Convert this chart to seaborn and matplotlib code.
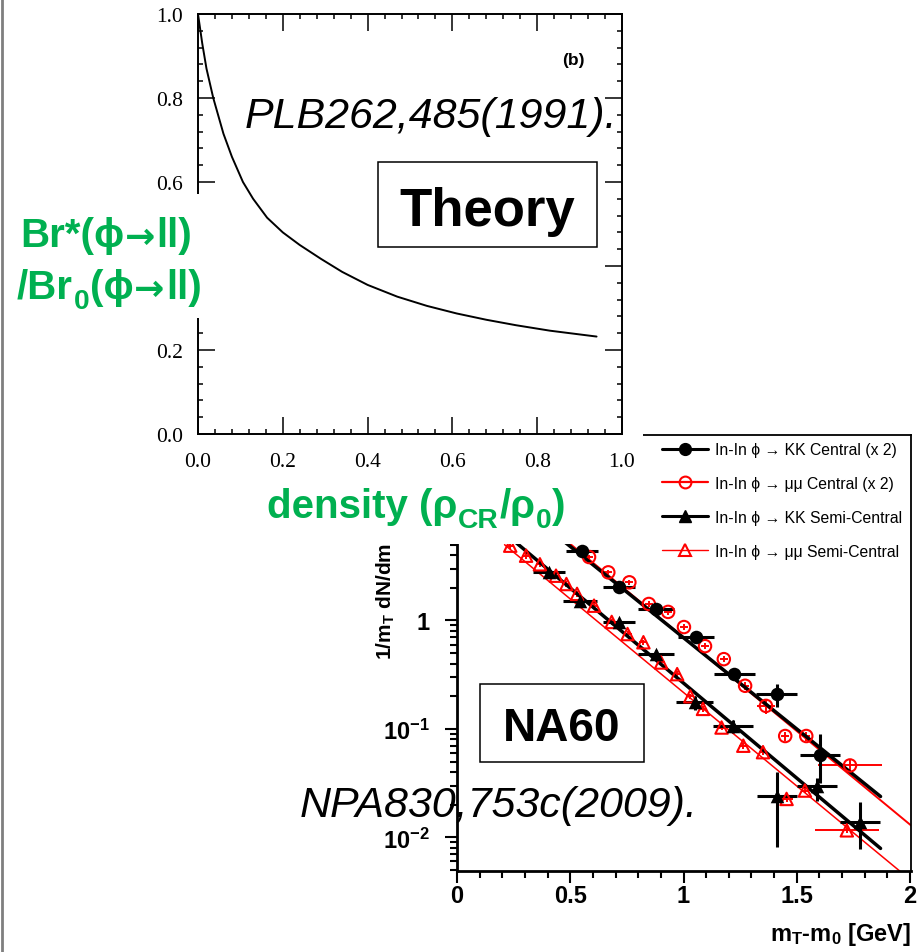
import numpy as np
import matplotlib
matplotlib.use("Agg")
import matplotlib.pyplot as plt
import seaborn as sns
from matplotlib.patches import Rectangle
from matplotlib.lines import Line2D
from matplotlib.ticker import MultipleLocator, LogLocator, NullFormatter

# Theory curve (top panel): Br*/Br0 vs density
density = [0.0, 0.01, 0.02, 0.036, 0.06, 0.08, 0.106, 0.13, 0.163, 0.2, 0.24,
           0.29, 0.34, 0.40, 0.47, 0.54, 0.61, 0.68, 0.75, 0.83, 0.94]
br_ratio = [1.0, 0.93, 0.87, 0.80, 0.715, 0.66, 0.60, 0.56, 0.515, 0.48, 0.45,
            0.417, 0.386, 0.355, 0.327, 0.305, 0.287, 0.272, 0.259, 0.246, 0.232]
theory_xticks = [0.0, 0.2, 0.4, 0.6, 0.8, 1.0]
theory_labels = ["0.0", "0.2", "0.4", "0.6", "0.8", "1.0"]

# NA60 spectra (bottom panel)
kk_c_x = [0.552, 0.715, 0.878, 1.056, 1.224, 1.412, 1.603]
kk_c_y = [4.4, 2.02, 1.28, 0.70, 0.321, 0.21, 0.058]
kk_c_xerr = [0.07, 0.07, 0.08, 0.08, 0.09, 0.09, 0.09]
kk_c_ylo = [0.25, 0.15, 0.09, 0.05, 0.03, 0.052, 0.026]
kk_c_yhi = [0.25, 0.18, 0.1, 0.06, 0.04, 0.047, 0.031]

mm_c_x = [0.583, 0.668, 0.761, 0.847, 0.932, 1.002, 1.095, 1.178, 1.272,
          1.364, 1.449, 1.542, 1.735]
mm_c_y = [3.85, 2.78, 2.25, 1.42, 1.20, 0.87, 0.58, 0.44, 0.25,
          0.163, 0.086, 0.086, 0.046]
mm_c_xerr = [0.018, 0.018, 0.018, 0.018, 0.018, 0.018, 0.018, 0.018, 0.018,
             0.04, 0.018, 0.018, 0.14]
mm_c_yerr = [0.2, 0.14, 0.11, 0.08, 0.07, 0.05, 0.035, 0.03, 0.02,
             0.025, 0.008, 0.008, 0.006]

kk_s_x = [0.406, 0.545, 0.715, 0.878, 1.049, 1.219, 1.413, 1.589, 1.779]
kk_s_y = [2.78, 1.52, 0.96, 0.49, 0.176, 0.107, 0.024, 0.0295, 0.0138]
kk_s_xerr = [0.07, 0.075, 0.07, 0.08, 0.08, 0.09, 0.09, 0.09, 0.09]
kk_s_ylo = [0.15, 0.08, 0.06, 0.04, 0.025, 0.015, 0.0159, 0.008, 0.006]
kk_s_yhi = [0.15, 0.08, 0.06, 0.04, 0.025, 0.015, 0.0158, 0.006, 0.0074]

mm_s_x = [0.235, 0.305, 0.366, 0.437, 0.483, 0.530, 0.605, 0.683, 0.753, 0.823,
          0.901, 0.972, 1.030, 1.086, 1.168, 1.264, 1.351, 1.455, 1.536, 1.721]
mm_s_y = [4.9, 3.96, 3.3, 2.59, 2.17, 1.76, 1.37, 0.97, 0.75, 0.63,
          0.41, 0.32, 0.20, 0.153, 0.103, 0.070, 0.061, 0.0226, 0.027, 0.0116]
mm_s_xerr = [0.018, 0.018, 0.018, 0.018, 0.018, 0.018, 0.018, 0.018, 0.018, 0.018,
             0.018, 0.018, 0.018, 0.018, 0.018, 0.018, 0.018, 0.03, 0.018, 0.14]

# exponential fits, end points
fit_kk_c_x, fit_kk_c_y = [0.45, 1.87], [5.85, 0.0238]
fit_mm_c_x, fit_mm_c_y = [0.45, 2.01], [6.2, 0.0126]
fit_kk_s_x, fit_kk_s_y = [0.25, 1.87], [5.46, 0.0079]
fit_mm_s_x, fit_mm_s_y = [0.21, 1.956], [5.0, 0.00486]

legend_labels = ["In-In ϕ → KK Central (x 2)", "In-In ϕ → μμ Central (x 2)",
                 "In-In ϕ → KK Semi-Central", "In-In ϕ → μμ Semi-Central"]

GREEN = "#00B050"
FAM = ["Liberation Sans", "DejaVu Sans"]
W, H = 920, 953

sns.set_style("ticks", rc={"axes.edgecolor": "black", "xtick.color": "black",
                           "ytick.color": "black", "text.color": "black"})
plt.rcParams["font.family"] = FAM
plt.rcParams["mathtext.fontset"] = "custom"
plt.rcParams["mathtext.rm"] = "Liberation Sans"
plt.rcParams["mathtext.bf"] = "Liberation Sans:bold"
plt.rcParams["mathtext.it"] = "Liberation Sans:italic"

fig = plt.figure(figsize=(W / 100, H / 100), dpi=100)


def frac(l, t, r, b):
    return [l / W, 1 - b / H, (r - l) / W, (b - t) / H]


# pixel overlay for annotations
over = fig.add_axes([0, 0, 1, 1], zorder=3)
over.set_xlim(0, W)
over.set_ylim(H, 0)
over.axis("off")
over.patch.set_alpha(0)

ax2 = fig.add_axes(frac(457, 436, 911, 872), zorder=0)
ax1 = fig.add_axes(frac(198, 15, 622, 435), zorder=1)

# ---- top panel: theory ----
sns.lineplot(x=density, y=br_ratio, ax=ax1, color="black", lw=1.4)
ax1.set_xlim(0, 1)
ax1.set_ylim(0, 1)
ax1.set_xticks(theory_xticks, theory_labels)
ax1.set_yticks(theory_xticks, theory_labels)
ax1.xaxis.set_minor_locator(MultipleLocator(0.04))
ax1.yaxis.set_minor_locator(MultipleLocator(0.04))
ax1.tick_params(which="both", direction="in", top=True, right=True, width=1.1,
                labelsize=15.5, labelfontfamily="Liberation Serif")
ax1.tick_params(which="major", length=12.5)
ax1.tick_params(which="minor", length=3.8)
ax1.tick_params(axis="x", pad=13)
ax1.tick_params(axis="y", pad=10.8)
for sp in ax1.spines.values():
    sp.set_linewidth(1.4)

# ---- bottom panel: NA60 ----
ax2.set_yscale("log")
ax2.errorbar(kk_c_x, kk_c_y, xerr=kk_c_xerr, yerr=[kk_c_ylo, kk_c_yhi],
             fmt="none", ecolor="black", elinewidth=2.2, capsize=0, zorder=3)
ax2.errorbar(kk_s_x, kk_s_y, xerr=kk_s_xerr, yerr=[kk_s_ylo, kk_s_yhi],
             fmt="none", ecolor="black", elinewidth=2.2, capsize=0, zorder=3)
ax2.errorbar(mm_c_x, mm_c_y, xerr=mm_c_xerr, yerr=mm_c_yerr,
             fmt="none", ecolor="red", elinewidth=1.4, capsize=0, zorder=2)
ax2.errorbar(mm_s_x, mm_s_y, xerr=mm_s_xerr, yerr=np.array(mm_s_y) * 0.06,
             fmt="none", ecolor="red", elinewidth=1.4, capsize=0, zorder=2)

sns.lineplot(x=fit_mm_c_x, y=fit_mm_c_y, ax=ax2, color="red", lw=1.4)
sns.lineplot(x=fit_mm_s_x, y=fit_mm_s_y, ax=ax2, color="red", lw=1.1)
sns.lineplot(x=fit_kk_c_x, y=fit_kk_c_y, ax=ax2, color="black", lw=2.5)
sns.lineplot(x=fit_kk_s_x, y=fit_kk_s_y, ax=ax2, color="black", lw=2.5)

sns.scatterplot(x=mm_c_x, y=mm_c_y, ax=ax2, marker="o", s=80, facecolor="none",
                edgecolor="red", linewidth=1.5, zorder=4)
sns.scatterplot(x=mm_s_x, y=mm_s_y, ax=ax2, marker="^", s=80, facecolor="none",
                edgecolor="red", linewidth=1.5, zorder=4)
sns.scatterplot(x=kk_c_x, y=kk_c_y, ax=ax2, marker="o", s=95, color="black",
                edgecolor="black", linewidth=0, zorder=5)
sns.scatterplot(x=kk_s_x, y=kk_s_y, ax=ax2, marker="^", s=95, color="black",
                edgecolor="black", linewidth=0, zorder=5)

ax2.set_xlim(0, 2.0044)
ax2.set_ylim(0.00489, 51.4)
ax2.set_xticks([0, 0.5, 1, 1.5, 2], ["0", "0.5", "1", "1.5", "2"],
               fontsize=17, fontweight="bold")
ax2.set_yticks([0.01, 0.1, 1], [r"$\mathbf{10^{-2}}$", r"$\mathbf{10^{-1}}$", r"$\mathbf{1}$"],
               fontsize=17)
ax2.xaxis.set_minor_locator(MultipleLocator(0.1))
ax2.yaxis.set_minor_locator(LogLocator(base=10, subs=np.arange(2, 10)))
ax2.yaxis.set_minor_formatter(NullFormatter())
ax2.tick_params(which="both", direction="out", width=1.5)
ax2.tick_params(which="major", length=8.6)
ax2.tick_params(which="minor", length=5)
ax2.tick_params(axis="x", pad=0.5)
ax2.tick_params(axis="y", pad=10.8)
ax2.set_xlabel("")
ax2.set_ylabel("")
ax2.spines["left"].set_linewidth(2)
ax2.spines["bottom"].set_linewidth(2)
ax2.spines["top"].set_linewidth(1.3)
ax2.spines["right"].set_linewidth(1.3)

handles = [
    Line2D([], [], color="black", lw=2.2, marker="o", ms=8.5),
    Line2D([], [], color="red", lw=1.6, marker="o", ms=8.5, mfc="none", mec="red", mew=1.5),
    Line2D([], [], color="black", lw=2.2, marker="^", ms=8.5),
    Line2D([], [], color="red", lw=1.0, marker="^", ms=8.5, mfc="none", mec="red", mew=1.5),
]
ax2.legend(handles, legend_labels, loc="upper left", bbox_to_anchor=(662, 443),
           bbox_transform=over.transData, frameon=False, borderpad=0, borderaxespad=0,
           handlelength=2.9, handletextpad=0.5, labelspacing=1.2,
           prop={"family": FAM, "size": 11.3})

# y label of the NA60 plot, cut at the top like in the cropped original
ax2.text(386, 660, r"1/m$_\mathbf{T}$ dN/dm",
         transform=over.transData, rotation=90, rotation_mode="anchor",
         ha="left", va="center", fontsize=15, fontweight="bold", clip_on=False, zorder=3)

# white mask over the cropped top-left part of the NA60 plot
ax2.add_patch(Rectangle((0, 0), 643, 545, transform=over.transData, facecolor="white",
                        edgecolor="none", zorder=10, clip_on=False))

# ---- annotations ----
over.plot([2, 2], [0, H], color="#7f7f7f", lw=2, solid_capstyle="butt")
over.add_patch(Rectangle((8, 195), 216, 124, facecolor="white", edgecolor="none", zorder=1))


def chain_text(x, y, parts, size=29):
    # parts: (text, kind) with kind "main", "sub" or "arrow"
    first = over.text(x, y, parts[0][0], color=GREEN, fontsize=size, fontweight="bold",
                      ha="left", va="baseline", zorder=5)
    prev = first
    prev_kind = parts[0][1]
    for s, kind in parts[1:]:
        fs = size * 0.7 if kind == "sub" else size
        if kind == "arrow":
            fs = size * 0.9
        fam = ["DejaVu Sans"] if kind == "arrow" else FAM
        dx = 1.2 if prev_kind == "arrow" else 0.4
        prev = over.annotate(s, xy=(1, 0), xycoords=(prev, first),
                             xytext=(dx, -5.6 if kind == "sub" else 0), textcoords="offset points",
                             color=GREEN, fontsize=fs, family=fam,
                             fontweight="bold", ha="left", va="bottom", zorder=5)
        prev_kind = kind


chain_text(20, 247, [("Br*(ϕ", "main"), ("→", "arrow"), ("ll)", "main")])
chain_text(17, 299, [("/Br", "main"), ("0", "sub"), ("(ϕ", "main"), ("→", "arrow"), ("ll)", "main")])
chain_text(267, 518, [("density (ρ", "main"), ("CR", "sub"), ("/ρ", "main"), ("0", "sub"), (")", "main")])

over.text(573, 60, "(b)", ha="center", va="center", fontsize=12.5, fontweight="bold")
over.text(245, 128, "PLB262,485(1991).", ha="left", va="baseline", fontsize=31, style="italic")
over.text(300, 817, "NPA830,753c(2009).", ha="left", va="baseline", fontsize=31, style="italic")

over.add_patch(Rectangle((378, 163), 219, 85, facecolor="white", edgecolor="black", lw=1.1, zorder=2))
over.text(487, 226, "Theory", ha="center", va="baseline", fontsize=38, fontweight="bold", zorder=3)
over.add_patch(Rectangle((480, 685), 164, 78, facecolor="white", edgecolor="black", lw=1.1, zorder=2))
over.text(562, 741, "NA60", ha="center", va="baseline", fontsize=33, fontweight="bold", zorder=3)

over.text(911, 941, r"m$_\mathbf{T}$-m$_\mathbf{0}$ [GeV]", ha="right", va="baseline",
          fontsize=17, fontweight="bold")

fig.savefig("out.png", dpi=100)
